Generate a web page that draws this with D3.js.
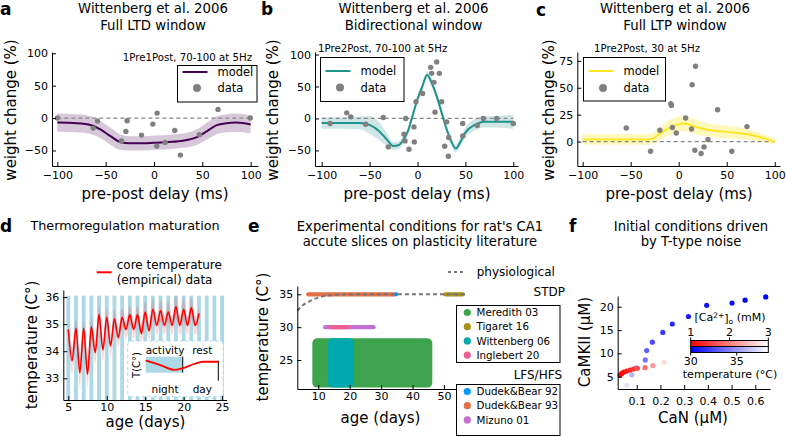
<!DOCTYPE html>
<html>
<head>
<meta charset="utf-8">
<script src="https://cdn.jsdelivr.net/npm/d3@7"></script>
<style>
  body { margin: 0; background: #fff; }
</style>
</head>
<body>
<svg id="fig" width="786" height="437"></svg>
<script>
const FONT = "DejaVu Sans";

// ---------- data: panel a (Full LTD window) ----------
const aDelay  = [-100, -62.9, -58.4, -33.6, -27.8, -29.1, -12.9, -1.2, 3.2, 2.9, 11.5, 21.5, 27.3, 47, 66.2, 99.6];
const aChange = [0, -15.5, -4.6, -35.5, -4.1, -20.6, -26.3, -9.3, 7.7, -43.3, -37.6, -19.1, -57.2, -25.8, 13.4, 0];
const aModelDelay = [-100, -80, -65, -55, -45, -35, -25, -10, 0, 15, 30, 45, 55, 65, 75, 85, 100];
const aModel      = [-7, -8, -11, -18, -28, -37, -39, -39, -38, -37, -35, -29, -20, -11, -8, -7, -10];
const aModelErr   = [14, 14, 14, 13, 13, 12, 11, 11, 11, 11, 11, 12, 13, 14, 14, 14, 14];

// ---------- data: panel b (Bidirectional window) ----------
const bDelay  = [-91.3, -73.9, -69.7, -54.1, -35.7, -30.5, -14.1, -13, -12.3, -8.9, -3.7, -3.3, -1.6, 5.4, 13.8, 14.8, 20, 17.2, 22.8, 25.2, 18.3, 30.5, 32.6, 28.4, 32.2, 47.2, 47.2, 62.4, 68.7, 82.7, 100];
const bChange = [-7.9, 8.8, 2.5, -9, 1.6, -44.5, -24.6, -35.1, 0, -48.2, -13.2, -36.7, 26.1, 39.2, 80, 70.6, 88.4, 56.5, 70.6, 26.1, 9.9, -5.3, -29.8, -43.5, -59.2, -7.9, -27.3, -11, 0, 0, -7.9];
const bModelDelay = [-100, -80, -60, -50, -40, -32, -25, -20, -15, -10, -5, 0, 5, 10, 15, 20, 25, 30, 35, 40, 45, 50, 60, 70, 80, 100];
const bModel      = [-7, -7, -7, -10, -20, -33, -43, -42, -34, -20, 5, 30, 50, 68, 55, 35, 10, -15, -35, -47, -36, -22, -10, -5, -5, -5];
const bModelErr   = [9, 9, 10, 14, 14, 10, 6, 6, 6, 6, 6, 6, 6, 6, 6, 6, 6, 6, 6, 6, 7, 8, 9, 9, 9, 11];

// ---------- data: panel c (Full LTP window) ----------
const cDelay  = [-54.6, -29.3, -19.6, -8.2, -7.6, -6.6, -2.5, 7.2, 13.4, 14, 17.5, 16.8, 23.3, 26.4, 30.5, 40.5, 55.3, 71.1];
const cChange = [12.6, -9, 10.5, 35.2, 33.6, 13, 8, 21.9, 11.7, 52.8, 70, -8, -11.1, -5, 1.9, 29.6, -9, 13.9];
const cModelDelay = [-100, -60, -30, -20, -10, 0, 5, 10, 20, 30, 50, 70, 85, 100];
const cModel      = [2, 2, 2, 7, 13, 16, 17, 16, 13, 11, 9, 7, 4, 0];
const cModelErr   = [5, 5, 5, 6, 7, 7, 7, 7, 7, 6, 6, 5, 4, 3];

// ---------- data: panel d (thermoregulation) ----------
const tDay  = [5, 5.5, 6, 6.5, 7, 7.5, 8, 8.5, 9, 9.5, 10, 10.5, 11, 11.5, 12, 12.5, 13, 13.5, 14, 14.5, 15, 15.5, 16, 16.5, 17, 17.5, 18, 18.5, 19, 19.5, 20, 20.5, 21, 21.5, 22];
const tMean = [34.8, 33.65, 34.85, 33.2, 34.85, 33.15, 34.9, 33.95, 35.35, 34.05, 35.25, 34.2, 35.2, 34.5, 35.25, 34.8, 35.35, 34.8, 35.35, 34.65, 35.45, 34.75, 35.55, 34.95, 35.5, 34.95, 35.45, 34.95, 35.65, 34.95, 35.55, 34.95, 35.6, 34.95, 35.4];
const tSd   = [0.3, 0.5, 0.35, 0.5, 0.35, 0.5, 0.35, 0.45, 0.35, 0.4, 0.35, 0.4, 0.35, 0.35, 0.35, 0.35, 0.35, 0.35, 0.35, 0.35, 0.4, 0.35, 0.4, 0.35, 0.4, 0.35, 0.4, 0.35, 0.45, 0.35, 0.45, 0.35, 0.4, 0.35, 0.3];
const nightDays = d3.range(5, 26);
const insetPhase = [0, 0.2, 0.4, 0.5, 0.67, 0.79, 1];
const insetTemp  = [1, 0.58, 0.1, 0.26, 0.68, 0.9, 0.9];

// ---------- data: panel e (experimental conditions) ----------
const physDay  = [3.32, 5, 7, 10, 14, 20, 30, 40, 57];
const physTemp = [32.5, 33.3, 33.9, 34.5, 34.85, 35, 35, 35, 35];
const stdpNames  = ["Meredith 03", "Tigaret 16", "Wittenberg 06", "Inglebert 20"];
const stdpColors = ["#3da44d", "#ac8e18", "#00a9ad", "#ed5e93"];
const lfsNames   = ["Dudek&Bear 92", "Dudek&Bear 93", "Mizuno 01"];
const lfsColors  = ["#009afa", "#e26f46", "#c271d2"];
// rectangles: [name, dayStart, dayEnd, tempLow, tempHigh]
const ageBoxes = [["Meredith 03", 8.1, 46.3, 20.8, 28.3], ["Wittenberg 06", 13, 21.4, 20.8, 28.3]];
// segments: [name, dayStart, dayEnd, temp]
const ageLines = [["Dudek&Bear 93", 6.8, 34.4, 35], ["Dudek&Bear 92", 34.8, 34.8, 35], ["Tigaret 16", 50.4, 56, 35],
                  ["Mizuno 01", 12.2, 27.6, 30], ["Inglebert 20", 14, 19.3, 30]];

// ---------- data: panel f (initial conditions) ----------
const fBlueCaN    = [0.644, 0.557, 0.502, 0.395, 0.318, 0.250, 0.210, 0.166, 0.142, 0.136, 0.097, 0.079, 0.058];
const fBlueCaMKII = [22.1, 21.4, 20.8, 20.3, 17.9, 16.3, 14.5, 12.4, 10.6, 8.6, 6.9, 5.4, 3.2];
const fBlueTemp   = [30, 30.2, 30.4, 30.7, 31, 31.4, 31.9, 32.5, 33.2, 33.8, 35, 36, 37.5];
const fRedCaN     = [0.030, 0.037, 0.046, 0.058, 0.072, 0.086, 0.103, 0.135, 0.168, 0.215];
const fRedCaMKII  = [5.36, 5.71, 6.0, 6.21, 6.43, 6.64, 6.79, 6.93, 7.36, 8.1];
const fRedCa      = [1.0, 1.05, 1.1, 1.2, 1.3, 1.45, 1.6, 1.85, 2.2, 2.7];

const svg = d3.select("#fig").style("font-family", FONT);
svg.append("rect").attr("width", 786).attr("height", 437).attr("fill", "#fff");

function txt(x, y, s, size, anchor = "middle", opts = {}) {
  const t = svg.append("text").attr("x", x).attr("y", y).attr("dy", "0.35em")
    .attr("text-anchor", anchor).style("font-family", FONT).style("font-size", size + "px")
    .attr("fill", "#000").text(s);
  if (opts.bold) t.style("font-weight", "bold");
  if (opts.rotate) t.attr("transform", `rotate(-90,${x},${y})`);
  return t;
}

function axes(x, y, xTicks, yTicks, xFmt, yFmt, xPad = 5) {
  const xa = svg.append("g").attr("transform", `translate(0,${y.range()[0]})`)
    .call(d3.axisBottom(x).tickValues(xTicks).tickFormat(xFmt).tickSizeInner(-4).tickSizeOuter(0).tickPadding(xPad));
  const ya = svg.append("g").attr("transform", `translate(${x.range()[0]},0)`)
    .call(d3.axisLeft(y).tickValues(yTicks).tickFormat(yFmt).tickSizeInner(-4).tickSizeOuter(0).tickPadding(4));
  [xa, ya].forEach(a => {
    a.attr("font-family", FONT);
    a.selectAll("text").style("font-family", FONT).style("font-size", "11px").attr("fill", "#000");
    a.select(".domain").attr("stroke", "#000");
    a.selectAll(".tick line").attr("stroke", "#000");
  });
}

// ---------- STDP window panels ----------
function windowPanel(p) {
  const x = d3.scaleLinear().domain(p.xDom).range(p.xRange);
  const y = d3.scaleLinear().domain(p.yDom).range([166, 52]);
  const g = svg.append("g");
  const band = d3.area().curve(d3.curveMonotoneX)
    .x((d, i) => x(p.mx[i])).y0((d, i) => y(p.m[i] - p.e[i])).y1((d, i) => y(p.m[i] + p.e[i]));
  g.append("path").attr("d", band(p.m)).attr("fill", p.color).attr("fill-opacity", p.bandOp);
  g.append("line").attr("x1", x(-100)).attr("x2", x(100)).attr("y1", y(0)).attr("y2", y(0))
    .attr("stroke", "#888").attr("stroke-width", 1.2).attr("stroke-dasharray", "4,3");
  const line = d3.line().curve(d3.curveMonotoneX).x((d, i) => x(p.mx[i])).y(d => y(d));
  g.append("path").attr("d", line(p.m)).attr("fill", "none").attr("stroke", p.color).attr("stroke-width", 2);
  g.selectAll("circle").data(p.dx).join("circle")
    .attr("cx", d => x(d)).attr("cy", (d, i) => y(p.dy[i])).attr("r", 2.7).attr("fill", "#808080");
  axes(x, y, [-100, -50, 0, 50, 100], p.yTicks, d3.format("d"), d3.format("d"));
  // legend
  const L = p.leg;
  svg.append("rect").attr("x", L[0]).attr("y", L[1]).attr("width", L[2]).attr("height", L[3])
    .attr("fill", "#fff").attr("stroke", "#000").attr("stroke-width", 1);
  svg.append("line").attr("x1", L[0] + 5).attr("x2", L[0] + 30).attr("y1", L[4]).attr("y2", L[4])
    .attr("stroke", p.color).attr("stroke-width", 2);
  svg.append("circle").attr("cx", L[0] + 19.5).attr("cy", L[5]).attr("r", 4).attr("fill", "#808080");
  txt(L[0] + 40, L[4], "model", 11.5, "start");
  txt(L[0] + 40, L[5], "data", 11.5, "start");
  // texts
  txt(p.tx, 8.5, "Wittenberg et al. 2006", 13.3);
  txt(p.tx, 25, p.title2, 13.3);
  txt(p.ann[0], p.ann[1], p.ann[2], 10.2, p.ann[3]);
  txt(p.ylx, 110, "weight change (%)", 15, "middle", { rotate: true });
  txt(p.xlx, 194, "pre-post delay (ms)", 15);
  txt(p.lab[0], p.lab[1], p.lab[2], 17, "start", { bold: true });
}

windowPanel({ xDom: [-105.5, 107.6], xRange: [52, 258], yDom: [-74, 102], dx: aDelay, dy: aChange,
  mx: aModelDelay, m: aModel, e: aModelErr, color: "#440154", bandOp: 0.22, yTicks: [-50, 0, 50, 100],
  leg: [177.5, 65.5, 79.5, 36.5, 72, 88], tx: 153, title2: "Full LTD window", ann: [252, 57, "1Pre1Post, 70-100 at 5Hz", "end"],
  ylx: 11, xlx: 155, lab: [0, 9, "a"] });
windowPanel({ xDom: [-107, 104.9], xRange: [315, 518], yDom: [-74.4, 104], dx: bDelay, dy: bChange,
  mx: bModelDelay, m: bModel, e: bModelErr, color: "#21918c", bandOp: 0.22, yTicks: [-50, 0, 50, 100],
  leg: [320.5, 57.5, 83.5, 44, 71, 87.5], tx: 413.5, title2: "Bidirectional window", ann: [318, 48, "1Pre2Post, 70-100 at 5Hz", "start"],
  ylx: 273, xlx: 417, lab: [261, 9, "b"] });
windowPanel({ xDom: [-105.6, 105.5], xRange: [577.3, 780], yDom: [-22.7, 83.2], dx: cDelay, dy: cChange,
  mx: cModelDelay, m: cModel, e: cModelErr, color: "#fde725", bandOp: 0.3, yTicks: [0, 25, 50, 75],
  leg: [583.5, 57.5, 82, 43.5, 71, 88], tx: 675, title2: "Full LTP window", ann: [594, 48, "1Pre2Post, 30 at 5Hz", "start"],
  ylx: 549, xlx: 679, lab: [536, 10, "c"] });

// ---------- panel d ----------
{
  const x = d3.scaleLinear().domain([4.35, 25.6]).range([63.3, 226.7]);
  const y = d3.scaleLinear().domain([32.2, 36.26]).range([400, 290]);
  svg.append("g").selectAll("rect").data(nightDays).join("rect")
    .attr("x", d => x(d - 0.25)).attr("width", x(0.5) - x(0)).attr("y", y(36.05)).attr("height", y(32.2) - y(36.05))
    .attr("fill", "#add8e6");
  const band = d3.area().curve(d3.curveMonotoneX)
    .x((d, i) => x(tDay[i])).y0((d, i) => y(d - tSd[i])).y1((d, i) => y(d + tSd[i]));
  svg.append("path").attr("d", band(tMean)).attr("fill", "#ff0000").attr("fill-opacity", 0.15);
  const line = d3.line().curve(d3.curveMonotoneX).x((d, i) => x(tDay[i])).y(d => y(d));
  svg.append("path").attr("d", line(tMean)).attr("fill", "none").attr("stroke", "#ff0000").attr("stroke-width", 1.6);
  axes(x, y, [5, 10, 15, 20, 25], [33, 34, 35, 36], d3.format("d"), d3.format("d"), 3);
  // inset
  svg.append("rect").attr("x", 127.7).attr("y", 341).attr("width", 95.6).attr("height", 55.7).attr("rx", 4)
    .attr("fill", "#fff").attr("stroke", "#add8e6").attr("stroke-dasharray", "3,3");
  const ix = d3.scaleLinear().domain([0, 1]).range([145.7, 218.3]);
  const iy = d3.scaleLinear().domain([0, 1]).range([371, 360.7]);
  svg.append("rect").attr("x", ix(0)).attr("y", 356.7).attr("width", ix(0.51) - ix(0)).attr("height", 16)
    .attr("fill", "#add8e6");
  svg.append("line").attr("x1", ix(0.51)).attr("x2", ix(0.51)).attr("y1", 356.7).attr("y2", 372.7).attr("stroke", "#000");
  svg.append("line").attr("x1", ix(1)).attr("x2", ix(1)).attr("y1", 360.7).attr("y2", 380.7).attr("stroke", "#000");
  const il = d3.line().curve(d3.curveMonotoneX).x((d, i) => ix(insetPhase[i])).y(d => iy(d));
  svg.append("path").attr("d", il(insetTemp)).attr("fill", "none").attr("stroke", "#ff0000").attr("stroke-width", 1.8);
  txt(136, 365, "T(C°)", 10, "middle", { rotate: true });
  txt(165, 350, "activity", 10.5);
  txt(202.3, 350, "rest", 10.5);
  txt(165, 389, "night", 10.5);
  txt(202.3, 389, "day", 10.5);
  // legend
  svg.append("line").attr("x1", 96.7).attr("x2", 111.7).attr("y1", 272.3).attr("y2", 272.3).attr("stroke", "#ff0000").attr("stroke-width", 2);
  txt(116.7, 265, "core temperature", 12, "start");
  txt(116.7, 279.5, "(empirical) data", 12, "start");
  txt(125, 225.5, "Thermoregulation maturation", 12.8);
  txt(32, 345, "temperature (C°)", 15, "middle", { rotate: true });
  txt(145.5, 422, "age (days)", 15);
  txt(0, 226, "d", 17, "start", { bold: true });
}

// ---------- panel e ----------
{
  const x = d3.scaleLinear().domain([3.32, 59.9]).range([297.3, 475]);
  const y = d3.scaleLinear().domain([20.59, 36.26]).range([389, 286]);
  const colorOf = {};
  stdpNames.forEach((n, i) => colorOf[n] = stdpColors[i]);
  lfsNames.forEach((n, i) => colorOf[n] = lfsColors[i]);
  svg.append("g").selectAll("rect").data(ageBoxes).join("rect")
    .attr("x", d => x(d[1])).attr("width", d => x(d[2]) - x(d[1]))
    .attr("y", d => y(d[4])).attr("height", d => y(d[3]) - y(d[4])).attr("rx", 5)
    .attr("fill", d => colorOf[d[0]]);
  svg.append("g").selectAll("line").data(ageLines).join("line")
    .attr("x1", d => x(d[1])).attr("x2", d => x(d[2])).attr("y1", d => y(d[3])).attr("y2", d => y(d[3]))
    .attr("stroke", d => colorOf[d[0]]).attr("stroke-width", 4.2).attr("stroke-linecap", "round");
  const pl = d3.line().curve(d3.curveMonotoneX).x((d, i) => x(physDay[i])).y(d => y(d));
  svg.append("path").attr("d", pl(physTemp)).attr("fill", "none").attr("stroke", "#777")
    .attr("stroke-width", 2).attr("stroke-dasharray", "4,3");
  axes(x, y, [10, 20, 30, 40, 50], [25, 30, 35], d3.format("d"), d3.format("d"), 3);
  // legends
  svg.append("line").attr("x1", 448).attr("x2", 464).attr("y1", 272).attr("y2", 272)
    .attr("stroke", "#777").attr("stroke-width", 2).attr("stroke-dasharray", "3,3");
  txt(476.7, 271.5, "physiological", 12, "start");
  txt(565, 292, "STDP", 12, "end");
  txt(562, 375, "LFS/HFS", 12, "end");
  function legendBox(names, colors, top, h) {
    svg.append("rect").attr("x", 456.5).attr("y", top).attr("width", 103.5).attr("height", h)
      .attr("fill", "#fff").attr("stroke", "#000");
    names.forEach((n, i) => {
      svg.append("circle").attr("cx", 467.3).attr("cy", top + 7 + 14.2 * i).attr("r", 3.6).attr("fill", colors[i]);
      txt(476.5, top + 7 + 14.2 * i, n, 10.3, "start");
    });
  }
  legendBox(stdpNames, stdpColors, 305.5, 57);
  legendBox(lfsNames, lfsColors, 384.5, 51);
  txt(420, 226.7, "Experimental conditions for rat's CA1", 13.2);
  txt(420, 241.7, "accute slices on plasticity literature", 13.2);
  txt(263, 337, "temperature (C°)", 15, "middle", { rotate: true });
  txt(380.5, 418, "age (days)", 15);
  txt(248, 226, "e", 17, "start", { bold: true });
}

// ---------- panel f ----------
{
  const x = d3.scaleLinear().domain([0.0198, 0.662]).range([617.7, 770]);
  const y = d3.scaleLinear().domain([2.36, 22.3]).range([389, 296]);
  const blueC = d3.scaleLinear().domain([30, 38.43]).range(["#0000ff", "#ffffff"]);
  const redC = d3.scaleLinear().domain([1, 3]).range(["#ff0000", "#ffffff"]);
  svg.append("g").selectAll("circle").data(fBlueCaN).join("circle")
    .attr("cx", d => x(d)).attr("cy", (d, i) => y(fBlueCaMKII[i])).attr("r", 2.6).attr("fill", (d, i) => blueC(fBlueTemp[i]));
  svg.append("g").selectAll("circle").data(fRedCaN).join("circle")
    .attr("cx", d => x(d)).attr("cy", (d, i) => y(fRedCaMKII[i])).attr("r", 2.6).attr("fill", (d, i) => redC(fRedCa[i]));
  axes(x, y, [0.1, 0.2, 0.3, 0.4, 0.5, 0.6], [5, 10, 15, 20], d3.format(".1f"), d3.format("d"), 8);
  // colorbars
  const caS = d3.scaleLinear().domain([1, 3]).range([690.7, 768.3]);
  const tS = d3.scaleLinear().domain([30, 38.43]).range([690.7, 768.3]);
  const defs = svg.append("defs");
  [["gRed", "#ff0000"], ["gBlue", "#0000ff"]].forEach(([id, c]) => {
    const gr = defs.append("linearGradient").attr("id", id);
    gr.append("stop").attr("offset", "0%").attr("stop-color", c);
    gr.append("stop").attr("offset", "100%").attr("stop-color", "#ffffff");
  });
  svg.append("rect").attr("x", 690.7).attr("y", 340.5).attr("width", 77.6).attr("height", 6).attr("fill", "url(#gRed)").attr("stroke", "#000");
  svg.append("rect").attr("x", 690.7).attr("y", 346.5).attr("width", 77.6).attr("height", 6).attr("fill", "url(#gBlue)").attr("stroke", "#000");
  [1, 2, 3].forEach(v => {
    svg.append("line").attr("x1", caS(v)).attr("x2", caS(v)).attr("y1", 337.5).attr("y2", 340.5).attr("stroke", "#000");
    txt(caS(v), 332.5, String(v), 11);
  });
  [30, 35].forEach(v => {
    svg.append("line").attr("x1", tS(v)).attr("x2", tS(v)).attr("y1", 352.5).attr("y2", 355.5).attr("stroke", "#000");
    txt(tS(v), 361, String(v), 11);
  });
  const cl = svg.append("text").attr("x", 730).attr("y", 317).attr("dy", "0.35em").attr("text-anchor", "middle")
    .style("font-family", FONT).style("font-size", "11px");
  cl.append("tspan").text("[Ca");
  cl.append("tspan").attr("dy", "-0.4em").style("font-size", "7.5px").text("2+");
  cl.append("tspan").attr("dy", "0.4em").text("]");
  cl.append("tspan").attr("dy", "0.25em").style("font-size", "7.5px").text("o");
  cl.append("tspan").attr("dy", "-0.25em").text(" (mM)");
  txt(730, 374, "temperature (°C)", 11);
  txt(691, 226.7, "Initial conditions driven", 13.2);
  txt(691, 241.7, "by T-type noise", 13.2);
  txt(585, 342, "CaMKII (μM)", 15, "middle", { rotate: true });
  txt(693, 418, "CaN (μM)", 15);
  txt(569, 226, "f", 17, "start", { bold: true });
}
</script>
</body>
</html>
